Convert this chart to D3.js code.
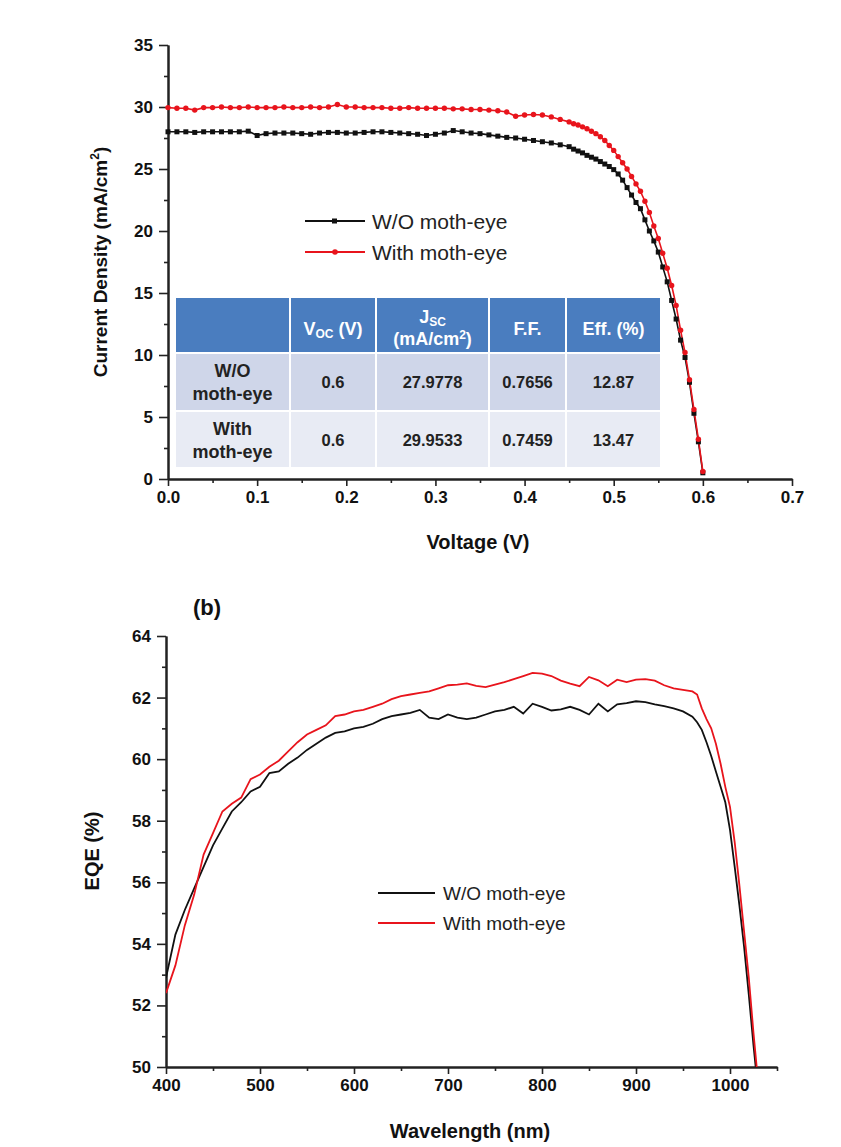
<!DOCTYPE html>
<html><head><meta charset="utf-8">
<script src="https://cdn.jsdelivr.net/npm/d3@7"></script>
<style>body{margin:0;background:#fff}svg{display:block}text{font-family:"Liberation Sans",Arial,sans-serif}</style>
</head><body>
<svg id="c" width="841" height="1147"></svg>
<script>
// ---------- Data: J-V curves ----------
const voltage = [0,0.01,0.02,0.03,0.04,0.05,0.06,0.07,0.08,0.09,0.10,0.11,0.12,0.13,0.14,0.15,0.16,0.17,0.18,0.19,0.20,0.21,0.22,0.23,0.24,0.25,0.26,0.27,0.28,0.29,0.30,0.31,0.32,0.33,0.34,0.35,0.36,0.37,0.38,0.39,0.40,0.41,0.42,0.43,0.44,0.45,0.455,0.46,0.465,0.47,0.475,0.48,0.485,0.49,0.495,0.50,0.505,0.51,0.515,0.52,0.525,0.53,0.535,0.54,0.545,0.55,0.555,0.56,0.565,0.57,0.575,0.58,0.585,0.59,0.595,0.60];
const jWithout = [28.0,28.0,28.0,27.95,28.0,28.0,28.0,28.0,28.0,28.05,27.7,27.85,27.9,27.9,27.9,27.85,27.8,27.9,27.95,27.95,27.9,27.9,27.95,28.0,28.0,27.95,27.9,27.85,27.8,27.7,27.8,27.9,28.1,28.0,27.9,27.85,27.75,27.65,27.55,27.5,27.4,27.3,27.2,27.1,26.95,26.8,26.6,26.45,26.3,26.1,25.95,25.8,25.6,25.4,25.2,24.95,24.6,24.1,23.5,22.9,22.3,21.8,20.9,20.0,19.2,18.3,17.1,15.9,14.4,12.9,11.2,9.8,7.8,5.3,3.0,0.5];
const jWith = [29.95,29.9,29.9,29.75,29.95,29.95,30.0,29.95,29.95,30.0,29.95,29.95,29.95,30.0,29.95,29.95,30.0,29.95,30.0,30.2,30.0,30.0,29.95,29.95,29.95,29.9,29.9,29.95,29.9,29.9,29.9,29.9,29.85,29.85,29.8,29.8,29.75,29.7,29.6,29.25,29.35,29.4,29.35,29.2,29.0,28.8,28.65,28.55,28.4,28.25,28.05,27.85,27.6,27.3,26.9,26.5,26.0,25.5,25.0,24.4,23.8,23.2,22.4,21.5,20.4,19.4,18.2,17.0,15.6,14.0,12.0,10.2,8.0,5.6,3.2,0.6];
const jvTicksX = [0,0.1,0.2,0.3,0.4,0.5,0.6,0.7];
const jvTicksY = [0,5,10,15,20,25,30,35];

// ---------- Data: table ----------
const tableHeader = ["", "Voc", "Jsc", "F.F.", "Eff. (%)"];
const tableRowLabels = [["W/O","moth-eye"],["With","moth-eye"]];
const tableVoc = ["0.6","0.6"];
const tableJsc = ["27.9778","29.9533"];
const tableFF = ["0.7656","0.7459"];
const tableEff = ["12.87","13.47"];

// ---------- Data: EQE ----------
const wavelength = [400,410,420,430,440,450,460,470,480,490,500,510,520,530,540,550,560,570,580,590,600,610,620,630,640,650,660,670,680,690,700,710,720,730,740,750,760,770,780,790,800,810,820,830,840,850,860,870,880,890,900,910,920,930,940,950,960,965,970,975,980,985,990,995,1000,1005,1010,1015,1020,1025,1029];
const eqeWithout = [52.9,54.3,55.1,55.8,56.5,57.2,57.75,58.3,58.6,58.95,59.1,59.55,59.6,59.85,60.05,60.3,60.5,60.7,60.85,60.9,61.0,61.05,61.15,61.3,61.4,61.45,61.5,61.6,61.35,61.3,61.45,61.35,61.3,61.35,61.45,61.55,61.6,61.7,61.48,61.8,61.7,61.58,61.62,61.7,61.6,61.45,61.8,61.55,61.78,61.82,61.88,61.85,61.78,61.72,61.65,61.55,61.38,61.2,60.95,60.55,60.1,59.6,59.1,58.6,57.7,56.5,55.25,53.9,52.35,50.7,49.5];
const eqeWith = [52.4,53.3,54.6,55.6,56.9,57.6,58.3,58.55,58.75,59.35,59.5,59.75,59.95,60.25,60.55,60.8,60.95,61.1,61.4,61.45,61.55,61.6,61.7,61.8,61.95,62.05,62.1,62.15,62.2,62.3,62.4,62.42,62.46,62.38,62.34,62.42,62.5,62.6,62.7,62.8,62.78,62.7,62.55,62.45,62.37,62.67,62.56,62.37,62.58,62.5,62.58,62.6,62.55,62.4,62.3,62.25,62.2,62.1,61.65,61.3,61.0,60.5,59.85,59.1,58.45,57.3,55.9,54.4,52.9,51.1,49.8];
const eqeTicksX = [400,500,600,700,800,900,1000];
const eqeTicksY = [50,52,54,56,58,60,62,64];

const seriesNames = ["W/O moth-eye","With moth-eye"];
const seriesColors = ["#111111","#e8141c"];

const svg = d3.select("#c");
const AX = "#222";

function styleAxis(g, fs){
  g.select(".domain").attr("stroke", AX).attr("stroke-width", 2);
  g.selectAll(".tick line").attr("stroke", AX).attr("stroke-width", 1.6);
  g.selectAll(".tick text").attr("fill","#111").attr("font-size", fs).attr("font-weight","bold")
   .attr("font-family",'"Liberation Sans", Arial, sans-serif');
}

// ================= Top chart =================
const x1 = d3.scaleLinear().domain([0,0.7]).range([168,792]);
const y1 = d3.scaleLinear().domain([0,35]).range([479,45]);

svg.append("g").attr("transform","translate(0,479)")
  .call(d3.axisBottom(x1).tickValues(d3.range(0.05,0.7,0.1)).tickSize(4).tickSizeOuter(0).tickFormat(""))
  .call(g=>styleAxis(g,17));
svg.append("g").attr("transform","translate(168,0)")
  .call(d3.axisLeft(y1).tickValues(d3.range(2.5,35,5)).tickSize(4).tickSizeOuter(0).tickFormat(""))
  .call(g=>styleAxis(g,17));
svg.append("g").attr("transform","translate(0,479)")
  .call(d3.axisBottom(x1).tickValues(jvTicksX).tickSize(7).tickSizeOuter(0).tickPadding(5).tickFormat(d3.format(".1f")))
  .call(g=>styleAxis(g,17));
svg.append("g").attr("transform","translate(168,0)")
  .call(d3.axisLeft(y1).tickValues(jvTicksY).tickSize(9).tickSizeOuter(0).tickPadding(6))
  .call(g=>styleAxis(g,17));

// table
const colEdges = [175,290,376,489,566,661];
const rowEdges = [297,353,411,468];
const tbl = svg.append("g");
const rowFill = ["#4a7dbf","#cfd6e9","#e8ebf4"];
for (let r=0;r<3;r++){
  for (let c=0;c<5;c++){
    tbl.append("rect").attr("x",colEdges[c]+1).attr("y",rowEdges[r]+1)
      .attr("width",colEdges[c+1]-colEdges[c]-2).attr("height",rowEdges[r+1]-rowEdges[r]-2)
      .attr("fill",rowFill[r]);
  }
}
const cx = c => (colEdges[c]+colEdges[c+1])/2;
const hdr = tbl.append("g").attr("fill","#fff").attr("font-weight","bold").attr("font-size",18).attr("text-anchor","middle");
let t = hdr.append("text").attr("x",cx(1)).attr("y",335);
t.append("tspan").text("V");
t.append("tspan").attr("font-size",12).attr("dy",3).text("OC");
t.append("tspan").attr("dy",-3).text(" (V)");
t = hdr.append("text").attr("x",cx(2)).attr("y",323);
t.append("tspan").text("J");
t.append("tspan").attr("font-size",12).attr("dy",3).text("SC");
t = hdr.append("text").attr("x",cx(2)).attr("y",345);
t.append("tspan").text("(mA/cm");
t.append("tspan").attr("font-size",12).attr("dy",-6).text("2");
t.append("tspan").attr("dy",6).text(")");
hdr.append("text").attr("x",cx(3)).attr("y",335).text(tableHeader[3]);
hdr.append("text").attr("x",cx(4)).attr("y",335).text(tableHeader[4]);

const body = tbl.append("g").attr("fill","#222").attr("font-weight","bold").attr("text-anchor","middle");
tableRowLabels.forEach((lab,i)=>{
  const mid = (rowEdges[i+1]+rowEdges[i+2])/2;
  body.append("text").attr("x",cx(0)).attr("y",mid-5).attr("font-size",18).text(lab[0]);
  body.append("text").attr("x",cx(0)).attr("y",mid+18).attr("font-size",18).text(lab[1]);
  [tableVoc[i],tableJsc[i],tableFF[i],tableEff[i]].forEach((v,k)=>{
    body.append("text").attr("x",cx(k+1)).attr("y",mid+6).attr("font-size",16.5).text(v);
  });
});

// curves
const line1 = d3.line().x((d,i)=>x1(voltage[i])).y(d=>y1(d));
[jWithout,jWith].forEach((arr,si)=>{
  svg.append("path").attr("d",line1(arr)).attr("fill","none").attr("stroke",seriesColors[si]).attr("stroke-width",1.6);
});
svg.append("g").selectAll("rect").data(jWithout).join("rect")
  .attr("x",(d,i)=>x1(voltage[i])-2.5).attr("y",d=>y1(d)-2.5).attr("width",5).attr("height",5).attr("fill",seriesColors[0]);
svg.append("g").selectAll("circle").data(jWith).join("circle")
  .attr("cx",(d,i)=>x1(voltage[i])).attr("cy",d=>y1(d)).attr("r",2.7).attr("fill",seriesColors[1]);

// legend top
seriesNames.forEach((n,i)=>{
  const yy = 221 + i*31;
  svg.append("line").attr("x1",305).attr("x2",365).attr("y1",yy).attr("y2",yy).attr("stroke",seriesColors[i]).attr("stroke-width",2);
  if(i===0) svg.append("rect").attr("x",332).attr("y",yy-2.5).attr("width",5).attr("height",5).attr("fill",seriesColors[i]);
  else svg.append("circle").attr("cx",335).attr("cy",yy).attr("r",2.8).attr("fill",seriesColors[i]);
  svg.append("text").attr("x",372).attr("y",yy+7.5).attr("font-size",21).attr("fill","#222").text(n);
});

svg.append("text").attr("x",478).attr("y",549).attr("text-anchor","middle").attr("font-size",20).attr("font-weight","bold").attr("fill","#111").text("Voltage (V)");
t = svg.append("text").attr("transform","translate(107,262) rotate(-90)").attr("text-anchor","middle").attr("font-size",19).attr("font-weight","bold").attr("fill","#111");
t.append("tspan").text("Current Density (mA/cm");
t.append("tspan").attr("font-size",12).attr("dy",-8).text("2");
t.append("tspan").attr("dy",8).text(")");

// ================= Bottom chart =================
const x2 = d3.scaleLinear().domain([400,1050]).range([166,777]);
const y2 = d3.scaleLinear().domain([50,64]).range([1067,636]);

svg.append("g").attr("transform","translate(0,1067)")
  .call(d3.axisBottom(x2).tickValues(d3.range(450,1051,100)).tickSize(4).tickSizeOuter(0).tickFormat(""))
  .call(g=>styleAxis(g,17));
svg.append("g").attr("transform","translate(166,0)")
  .call(d3.axisLeft(y2).tickValues(d3.range(51,64,2)).tickSize(4).tickSizeOuter(0).tickFormat(""))
  .call(g=>styleAxis(g,17));
svg.append("g").attr("transform","translate(0,1067)")
  .call(d3.axisBottom(x2).tickValues(eqeTicksX).tickSize(7).tickSizeOuter(0).tickPadding(5).tickFormat(d3.format("d")))
  .call(g=>styleAxis(g,17));
svg.append("g").attr("transform","translate(166,0)")
  .call(d3.axisLeft(y2).tickValues(eqeTicksY).tickSize(9).tickSizeOuter(0).tickPadding(6))
  .call(g=>styleAxis(g,17));

svg.append("defs").append("clipPath").attr("id","clip2").append("rect").attr("x",166).attr("y",630).attr("width",620).attr("height",437);
const line2 = d3.line().x((d,i)=>x2(wavelength[i])).y(d=>y2(d));
[eqeWithout,eqeWith].forEach((arr,si)=>{
  svg.append("path").attr("clip-path","url(#clip2)").attr("d",line2(arr)).attr("fill","none").attr("stroke",seriesColors[si]).attr("stroke-width",1.8);
});

seriesNames.forEach((n,i)=>{
  const yy = 893 + i*30;
  svg.append("line").attr("x1",378).attr("x2",435).attr("y1",yy).attr("y2",yy).attr("stroke",seriesColors[i]).attr("stroke-width",2);
  svg.append("text").attr("x",443).attr("y",yy+7).attr("font-size",19).attr("fill","#222").text(n);
});

svg.append("text").attr("x",207).attr("y",615).attr("text-anchor","middle").attr("font-size",22).attr("font-weight","bold").attr("fill","#111").text("(b)");
svg.append("text").attr("x",470).attr("y",1138).attr("text-anchor","middle").attr("font-size",20).attr("font-weight","bold").attr("fill","#111").text("Wavelength (nm)");
svg.append("text").attr("transform","translate(99,851) rotate(-90)").attr("text-anchor","middle").attr("font-size",20).attr("font-weight","bold").attr("fill","#111").text("EQE (%)");
</script>
</body></html>
